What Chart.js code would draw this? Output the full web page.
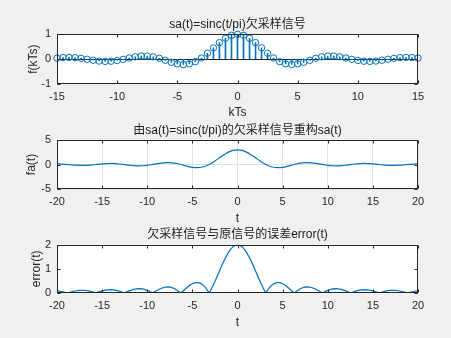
<!DOCTYPE html>
<html>
<head>
<meta charset="utf-8">
<script src="https://cdn.jsdelivr.net/npm/chart.js@4/dist/chart.umd.min.js"></script>
<style>
  html, body { margin: 0; padding: 0; background: #f0f0f0; }
  body { width: 451px; height: 338px; position: relative; overflow: hidden; }
  canvas { position: absolute; left: 0; }
</style>
</head>
<body>
<canvas id="sampleChart" width="451" height="120" style="top:0px"></canvas>
<canvas id="rebuildChart" width="451" height="108" style="top:118px"></canvas>
<canvas id="errorChart" width="451" height="116" style="top:222px"></canvas>
<script>
// sampled signal f(kTs)
const sampleT = [-15, -14.5, -14, -13.5, -13, -12.5, -12, -11.5, -11, -10.5, -10, -9.5, -9, -8.5, -8, -7.5, -7, -6.5, -6, -5.5, -5, -4.5, -4, -3.5, -3, -2.5, -2, -1.5, -1, -0.5,
  0, 0.5, 1, 1.5, 2, 2.5, 3, 3.5, 4, 4.5, 5, 5.5, 6, 6.5, 7, 7.5, 8, 8.5, 9, 9.5, 10, 10.5, 11, 11.5, 12, 12.5, 13, 13.5, 14, 14.5, 15];
const sampleValues = [0.043, 0.064, 0.071, 0.060, 0.032, -0.005, -0.045, -0.076, -0.091, -0.084, -0.054, -0.008, 0.046, 0.094, 0.124, 0.125, 0.094, 0.033, -0.047, -0.128, -0.192, -0.217, -0.189, -0.100, 0.047, 0.239, 0.455, 0.665, 0.841, 0.959,
  1, 0.959, 0.841, 0.665, 0.455, 0.239, 0.047, -0.100, -0.189, -0.217, -0.192, -0.128, -0.047, 0.033, 0.094, 0.125, 0.124, 0.094, 0.046, -0.008, -0.054, -0.084, -0.091, -0.076, -0.045, -0.005, 0.032, 0.060, 0.071, 0.064, 0.043];

// reconstructed fa(t)
const faT = [-20, -19.5, -19, -18.5, -18, -17.5, -17, -16.5, -16, -15.5, -15, -14.5, -14, -13.5, -13, -12.5, -12, -11.5, -11, -10.5, -10, -9.5, -9, -8.5, -8, -7.5, -7, -6.5, -6, -5.5, -5, -4.5, -4, -3.5, -3, -2.5, -2, -1.5, -1, -0.5,
  0, 0.5, 1, 1.5, 2, 2.5, 3, 3.5, 4, 4.5, 5, 5.5, 6, 6.5, 7, 7.5, 8, 8.5, 9, 9.5, 10, 10.5, 11, 11.5, 12, 12.5, 13, 13.5, 14, 14.5, 15, 15.5, 16, 16.5, 17, 17.5, 18, 18.5, 19, 19.5, 20];
const faValues = [0.137, 0.093, 0.024, -0.056, -0.125, -0.169, -0.170, -0.129, -0.054, 0.040, 0.130, 0.193, 0.212, 0.179, 0.097, -0.016, -0.134, -0.228, -0.273, -0.251, -0.163, -0.024, 0.137, 0.282, 0.371, 0.375, 0.282, 0.099, -0.140, -0.385, -0.575, -0.652, -0.568, -0.301, 0.141, 0.718, 1.364, 1.995, 2.524, 2.877,
  3.000, 2.877, 2.524, 1.995, 1.364, 0.718, 0.141, -0.301, -0.568, -0.652, -0.575, -0.385, -0.140, 0.099, 0.282, 0.375, 0.371, 0.282, 0.137, -0.024, -0.163, -0.251, -0.273, -0.228, -0.134, -0.016, 0.097, 0.179, 0.212, 0.193, 0.130, 0.040, -0.054, -0.129, -0.170, -0.169, -0.125, -0.056, 0.024, 0.093, 0.137];

// error(t)
const errT = [-20, -19.5, -19, -18.85, -18.5, -18, -17.5, -17, -16.5, -16, -15.71, -15.5, -15, -14.5, -14, -13.5, -13, -12.57, -12.5, -12, -11.5, -11, -10.5, -10, -9.5, -9.42, -9, -8.5, -8, -7.5, -7, -6.5, -6.28, -6, -5.75, -5.5, -5.25, -5, -4.75, -4.5, -4.25, -4, -3.75, -3.5, -3.25, -3.14, -3, -2.75, -2.5, -2.25, -2, -1.75, -1.5, -1.25, -1, -0.75, -0.5, -0.25,
  0, 0.25, 0.5, 0.75, 1, 1.25, 1.5, 1.75, 2, 2.25, 2.5, 2.75, 3, 3.14, 3.25, 3.5, 3.75, 4, 4.25, 4.5, 4.75, 5, 5.25, 5.5, 5.75, 6, 6.28, 6.5, 7, 7.5, 8, 8.5, 9, 9.42, 9.5, 10, 10.5, 11, 11.5, 12, 12.5, 12.57, 13, 13.5, 14, 14.5, 15, 15.5, 15.71, 16, 16.5, 17, 17.5, 18, 18.5, 18.85, 19, 19.5, 20];
const errValues = [0.091, 0.062, 0.016, 0, 0.037, 0.083, 0.112, 0.113, 0.086, 0.036, 0, 0.027, 0.087, 0.129, 0.142, 0.119, 0.065, 0, 0.011, 0.089, 0.152, 0.182, 0.168, 0.109, 0.016, 0, 0.092, 0.188, 0.247, 0.250, 0.188, 0.066, 0, 0.093, 0.177, 0.257, 0.327, 0.384, 0.421, 0.434, 0.421, 0.378, 0.305, 0.200, 0.067, 0, 0.094, 0.278, 0.479, 0.692, 0.909, 1.125, 1.330, 1.518, 1.683, 1.818, 1.918, 1.979,
  2.000, 1.979, 1.918, 1.818, 1.683, 1.518, 1.330, 1.125, 0.909, 0.692, 0.479, 0.278, 0.094, 0, 0.067, 0.200, 0.305, 0.378, 0.421, 0.434, 0.421, 0.384, 0.327, 0.257, 0.177, 0.093, 0, 0.066, 0.188, 0.250, 0.247, 0.188, 0.092, 0, 0.016, 0.109, 0.168, 0.182, 0.152, 0.089, 0.011, 0, 0.065, 0.119, 0.142, 0.129, 0.087, 0.027, 0, 0.036, 0.086, 0.113, 0.112, 0.083, 0.037, 0, 0.016, 0.062, 0.091];

const titles = ["sa(t)=sinc(t/pi)欠采样信号", "由sa(t)=sinc(t/pi)的欠采样信号重构sa(t)", "欠采样信号与原信号的误差error(t)"];
const xLabels = ["kTs", "t", "t"];
const yLabels = ["f(kTs)", "fa(t)", "error(t)"];

const BLUE = "#0072BD";
const AXIS = "#262626";
Chart.defaults.font.family = "'Liberation Sans', Arial, 'Noto Sans CJK SC', sans-serif";
Chart.defaults.color = AXIS;
Chart.defaults.animation = false;

function pts(xs, ys) {
  return xs.map((x, i) => ({ x: x, y: ys[i] }));
}

// white axes background, box and inward ticks like matlab
const boxPlugin = {
  id: "box",
  beforeDraw(chart) {
    const { ctx, chartArea: a } = chart;
    ctx.save();
    ctx.fillStyle = "#ffffff";
    ctx.fillRect(a.left, a.top, a.width, a.height);
    ctx.restore();
  },
  afterDraw(chart) {
    const { ctx, chartArea: a, scales } = chart;
    const l = Math.round(a.left) + 0.5, r = Math.round(a.right) - 0.5;
    const t = Math.round(a.top) + 0.5, b = Math.round(a.bottom) - 0.5;
    ctx.save();
    ctx.strokeStyle = AXIS;
    ctx.lineWidth = 1;
    ctx.beginPath();
    scales.x.ticks.forEach(function (tk) {
      const px = Math.round(scales.x.getPixelForValue(tk.value)) + 0.5;
      ctx.moveTo(px, b); ctx.lineTo(px, b - 3);
      ctx.moveTo(px, t); ctx.lineTo(px, t + 3);
    });
    scales.y.ticks.forEach(function (tk) {
      const py = Math.round(scales.y.getPixelForValue(tk.value)) + 0.5;
      ctx.moveTo(l, py); ctx.lineTo(l + 3, py);
      ctx.moveTo(r, py); ctx.lineTo(r - 3, py);
    });
    ctx.stroke();
    ctx.strokeRect(l, t, r - l, b - t);
    ctx.restore();
  }
};

function makeOptions(o) {
  return {
    responsive: false,
    devicePixelRatio: 1,
    layout: { padding: { left: 0, right: 33, top: 0, bottom: 0 } },
    plugins: {
      legend: { display: false },
      tooltip: { enabled: false },
      title: {
        display: true,
        fullSize: false,
        text: o.title,
        color: "#1a1a1a",
        font: { size: 12, weight: "normal" },
        padding: o.titlePad
      }
    },
    scales: {
      x: {
        type: "linear",
        min: o.xMin, max: o.xMax,
        offset: false,
        grid: { display: o.grid, color: "#e1e1e1", drawTicks: false, offset: false },
        border: { display: false },
        ticks: { stepSize: 5, padding: 6, font: { size: 11 }, maxRotation: 0 },
        title: { display: true, text: o.xLabel, font: { size: 12 }, padding: o.xTitlePad },
        afterFit: function (s) { s.height = o.xHeight; }
      },
      y: {
        min: o.yMin, max: o.yMax,
        grid: { display: o.grid || o.baseline, color: o.gridColor || "#e1e1e1", drawTicks: false },
        border: { display: false },
        ticks: { stepSize: o.yStep, padding: 6, font: { size: 11 } },
        title: { display: true, text: o.yLabel, font: { size: 12 }, padding: { top: o.yTitleX - 7.2, bottom: 0 } },
        afterFit: function (s) { s.width = 57; }
      }
    }
  };
}

// Sample Chart
new Chart(document.getElementById("sampleChart"), {
  type: "bar",
  data: {
    datasets: [
      {
        type: "bar",
        data: pts(sampleT, sampleValues),
        backgroundColor: BLUE,
        barThickness: 1,
        borderWidth: 0
      },
      {
        type: "scatter",
        data: pts(sampleT, sampleValues),
        pointStyle: "circle",
        pointRadius: 3.2,
        pointBorderWidth: 1,
        pointBorderColor: BLUE,
        pointBackgroundColor: "rgba(0,0,0,0)",
        clip: false
      }
    ]
  },
  options: makeOptions({
    title: titles[0], titlePad: { top: 17.8, bottom: 2.1 },
    xMin: -15, xMax: 15, xLabel: xLabels[0], xHeight: 36, xTitlePad: { top: 0, bottom: 0.3 },
    yMin: -1, yMax: 1, yStep: 1, yLabel: yLabels[0], yTitleX: 34,
    grid: false, baseline: true,
    gridColor: function (c) { return c.tick && c.tick.value === 0 ? AXIS : "rgba(0,0,0,0)"; }
  }),
  plugins: [boxPlugin]
});

// Rebuild Chart
new Chart(document.getElementById("rebuildChart"), {
  type: "line",
  data: {
    datasets: [{
      data: pts(faT, faValues),
      borderColor: BLUE,
      borderWidth: 1.2,
      pointRadius: 0,
      tension: 0.4,
      fill: false
    }]
  },
  options: makeOptions({
    title: titles[1], titlePad: { top: 5.3, bottom: 2.3 },
    xMin: -20, xMax: 20, xLabel: xLabels[1], xHeight: 37, xTitlePad: { top: 0, bottom: 0.3 },
    yMin: -5, yMax: 5, yStep: 5, yLabel: yLabels[1], yTitleX: 32,
    grid: true, baseline: false
  }),
  plugins: [boxPlugin]
});

// Error Chart
new Chart(document.getElementById("errorChart"), {
  type: "line",
  data: {
    datasets: [{
      data: pts(errT, errValues),
      borderColor: BLUE,
      borderWidth: 1.2,
      pointRadius: 0,
      tension: 0,
      fill: false
    }]
  },
  options: makeOptions({
    title: titles[2], titlePad: { top: 5.8, bottom: 2.5 },
    xMin: -20, xMax: 20, xLabel: xLabels[2], xHeight: 45, xTitlePad: { top: 0, bottom: 7.8 },
    yMin: 0, yMax: 2, yStep: 1, yLabel: yLabels[2], yTitleX: 37,
    grid: false, baseline: false
  }),
  plugins: [boxPlugin]
});
</script>
</body>
</html>
